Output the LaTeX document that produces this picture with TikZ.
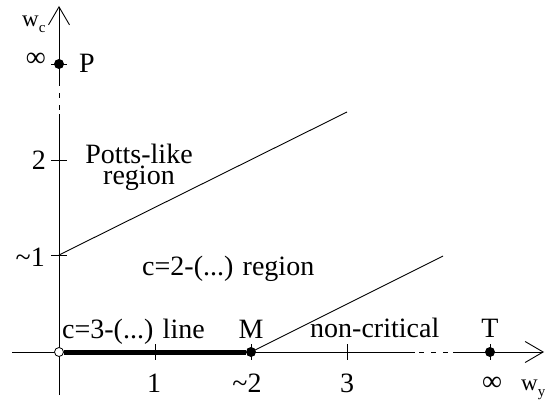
\documentclass[tikz,border=0pt]{standalone}
\usepackage{fontspec}
\setmainfont{Liberation Serif}
\usetikzlibrary{arrows.meta}
\begin{document}
\begin{tikzpicture}[x=1pt,y=-1pt,
  lbl/.style={inner sep=0pt,font=\fontsize{28}{30}\selectfont},
  wlbl/.style={inner sep=0pt,font=\fontsize{23}{25}\selectfont},
  axis/.style={line width=0.9pt},
  axtip/.style={-{Straight Barb[length=18pt,width=21pt,line width=0.9pt]}},
  dsh/.style={line width=0.9pt,dash pattern=on 5pt off 7pt,dash phase=-4pt},
  bound/.style={line width=0.9pt},
  tick/.style={line width=0.9pt},
  dotf/.style={circle,fill=black,inner sep=0pt,minimum size=10pt},
  doto/.style={circle,draw=black,fill=white,line width=0.8pt,inner sep=0pt,minimum size=9pt}]
\useasboundingbox (0,0) rectangle (545,403);
% axis coordinates
\coordinate (O) at (59,352);
\coordinate (yb) at (59,395);
\coordinate (yd1) at (59,114);
\coordinate (yd2) at (59,82);
\coordinate (yt) at (59,6);
\coordinate (xs) at (12,352);
\coordinate (xd1) at (415,352);
\coordinate (xd2) at (453,352);
\coordinate (xe) at (544,352);
% vertical axis
\draw[axis] (yb) -- (yd1);
\draw[dsh] (yd1) -- (yd2);
\draw[axis,axtip] (yd2) -- (yt);
% horizontal axis
\draw[axis] (xs) -- (xd1);
\draw[dsh] (xd1) -- (xd2);
\draw[axis,axtip] (xd2) -- (xe);
% ticks on vertical axis
\foreach \n/\yy in {tP/64,t2/160,t1/255}{
  \coordinate (\n a) at (51,\yy);
  \coordinate (\n b) at (67,\yy);
  \draw[tick] (\n a) -- (\n b);
}
% ticks on horizontal axis
\foreach \n/\xx in {u1/155,u2/251,u3/347,uT/490}{
  \coordinate (\n a) at (\xx,344);
  \coordinate (\n b) at (\xx,360);
  \draw[tick] (\n a) -- (\n b);
}
% points
\node[doto] (origin) at (O) {};
\node[dotf] (M) at (251,352) {};
\node[dotf] (T) at (490,352) {};
\node[dotf] (P) at (59,64) {};
% thick line
\draw[line width=5pt] (origin.east) -- (M.west);
% boundaries
\coordinate (B1s) at (59,255);
\coordinate (B1e) at (347,112);
\coordinate (B2e) at (443,256);
\draw[bound] (B1s) -- (B1e);
\draw[bound] (M.center) -- (B2e);
% labels
\node[wlbl,anchor=base west] (wc) at (22,27) {w\raisebox{-6pt}{\fontsize{15}{15}\selectfont c}};
\node[lbl,anchor=mid east] (infP) at (46,64) {∞};
\node[lbl,anchor=base west] (Plbl) at (79,73) {P};
\node[lbl,anchor=base east] (l2) at (46,170) {2};
\node[lbl,anchor=base east] (l1) at (45,266) {\textasciitilde1};
\node[lbl,anchor=base,align=center,font=\fontsize{28}{21}\selectfont] (potts) at (139,185) {Potts-like\\region};
\node[lbl,anchor=base west] (c2) at (142,275) {c=2-(...) region};
\node[lbl,anchor=base west] (c3) at (62,338) {c=3-(...) line};
\node[lbl,anchor=base] (Mlbl) at (251,338) {M};
\node[lbl,anchor=base west] (nc) at (310,337) {non-critical};
\node[lbl,anchor=base] (Tlbl) at (490,337) {T};
\node[lbl,anchor=base] (x1) at (154,392) {1};
\node[lbl,anchor=base] (x2) at (247,392) {\textasciitilde2};
\node[lbl,anchor=base] (x3) at (347,392) {3};
\node[lbl,anchor=base] (xinf) at (492,390) {∞};
\node[wlbl,anchor=base west] (wy) at (521,390) {w\raisebox{-6pt}{\fontsize{15}{15}\selectfont y}};
\end{tikzpicture}
\end{document}
